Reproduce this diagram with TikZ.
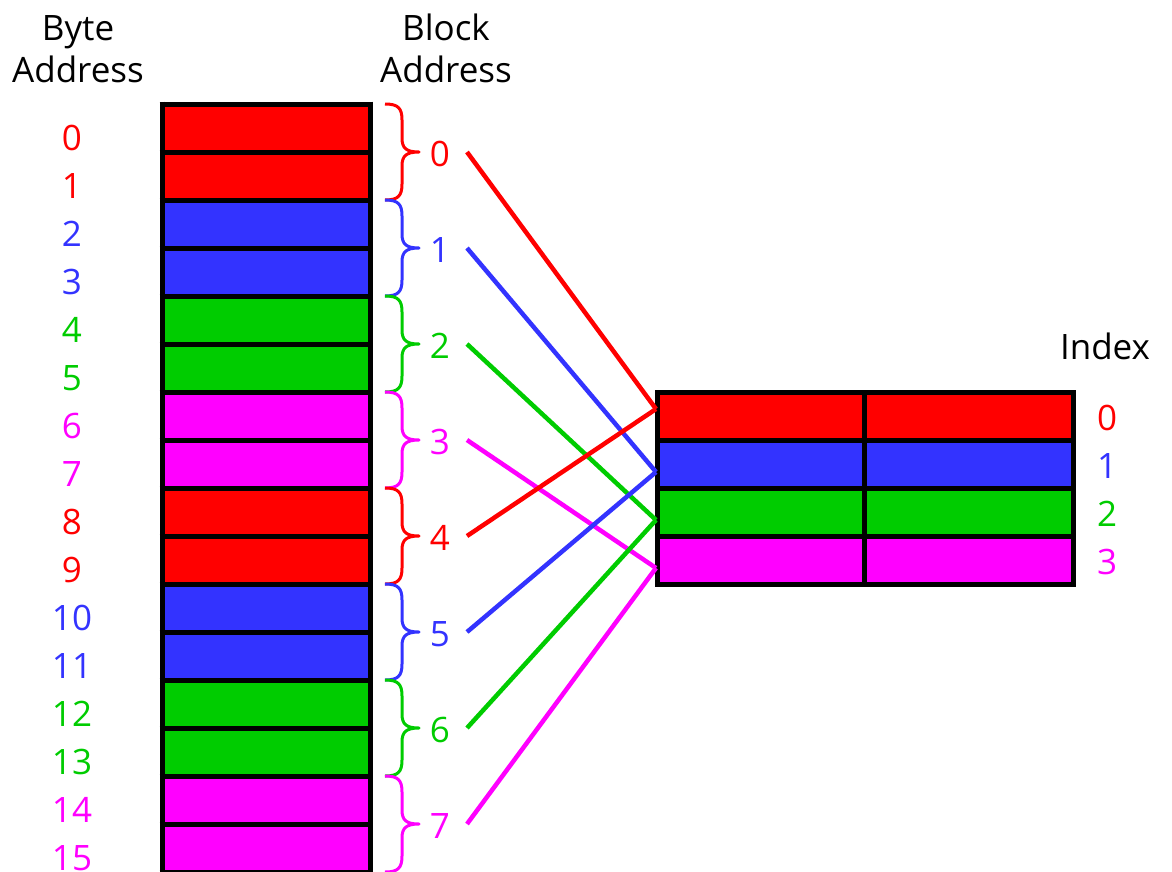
\documentclass[tikz,border=0pt]{standalone}
\usepackage{fontspec}
\setmainfont{Open Sans}
\definecolor{cred}{HTML}{FF0000}
\definecolor{cblue}{HTML}{3333FF}
\definecolor{cgreen}{HTML}{00CC00}
\definecolor{cmag}{HTML}{FF00FF}
\tikzset{
  cell/.style={draw=black,line width=5pt},
  lbl/.style={font=\fontsize{35}{40}\selectfont,inner sep=0pt},
  hdr/.style={font=\fontsize{35}{40}\selectfont,inner sep=0pt,anchor=base},
  conn/.style={line width=4.5pt},
  bracestyle/.style={line width=3pt,line join=round}
}
\begin{document}
\begin{tikzpicture}[x=1pt,y=-1pt]
\useasboundingbox (0,0) rectangle (1172,871);
\clip (0,0) rectangle (1172,871);
\def\colA{cred}\def\colB{cblue}\def\colC{cgreen}\def\colD{cmag}
% headers
\node[hdr] (h1) at (78,40) {Byte};
\node[hdr] (h2) at (78,82) {Address};
\node[hdr] (h3) at (446,40) {Block};
\node[hdr] (h4) at (446,82) {Address};
\node[hdr] (h5) at (1105,359) {Index};
% memory column
\foreach \k/\c in {0/cred,1/cred,2/cblue,3/cblue,4/cgreen,5/cgreen,6/cmag,7/cmag,8/cred,9/cred,10/cblue,11/cblue,12/cgreen,13/cgreen,14/cmag,15/cmag}{
  \path[fill=\c] (162,{104+48*\k}) rectangle (370,{152+48*\k});
  \node[lbl,text=\c] (b\k) at (72,{138+48*\k}) {\k};
}
\foreach \k in {0,...,16}{
  \draw[line width=5pt] (159.5,{104+48*\k}) -- (372.5,{104+48*\k});
}
\draw[line width=5pt] (162,101.5) -- (162,900);
\draw[line width=5pt] (370,101.5) -- (370,900);
% braces and block labels
\foreach \k/\c in {0/cred,1/cblue,2/cgreen,3/cmag,4/cred,5/cblue,6/cgreen,7/cmag}{
  \pgfmathsetmacro{\ya}{104+96*\k}
  \pgfmathsetmacro{\ym}{152+96*\k}
  \pgfmathsetmacro{\yb}{200+96*\k}
  \draw[bracestyle,\c] (385,\ya) .. controls (398,\ya) and (402,{\ya+4}) .. (402,{\ya+16})
     -- (402,{\ym-14}) .. controls (402,{\ym-4}) and (406,\ym) .. (419,\ym)
     .. controls (406,\ym) and (402,{\ym+4}) .. (402,{\ym+14})
     -- (402,{\yb-16}) .. controls (402,{\yb-4}) and (398,\yb) .. (385,\yb);
  \node[lbl,text=\c] (k\k) at (440,{\ym+2}) {\k};
  \coordinate (s\k) at (467,\ym);
}
% cache
\foreach \k/\c in {0/cred,1/cblue,2/cgreen,3/cmag}{
  \path[fill=\c] (657,{392+48*\k}) rectangle (1073,{440+48*\k});
  \node[lbl,text=\c] (i\k) at (1107,{418+48*\k}) {\k};
}
\draw[line width=5pt] (657,392) rectangle (1073,584);
\foreach \k in {1,2,3}{\draw[line width=5pt] (657,{392+48*\k}) -- (1073,{392+48*\k});}
\draw[line width=5pt] (864,392) -- (864,584);
\coordinate (e0) at (656,409);
\coordinate (e1) at (656,472);
\coordinate (e2) at (656,520);
\coordinate (e3) at (656,568);
% connectors
\draw[conn,cred] (s0) -- (e0);
\draw[conn,cblue] (s1) -- (e1);
\draw[conn,cgreen] (s2) -- (e2);
\draw[conn,cmag] (s3) -- (e3);
\draw[conn,cred] (s4) -- (e0);
\draw[conn,cblue] (s5) -- (e1);
\draw[conn,cgreen] (s6) -- (e2);
\draw[conn,cmag] (s7) -- (e3);
\end{tikzpicture}
\end{document}
